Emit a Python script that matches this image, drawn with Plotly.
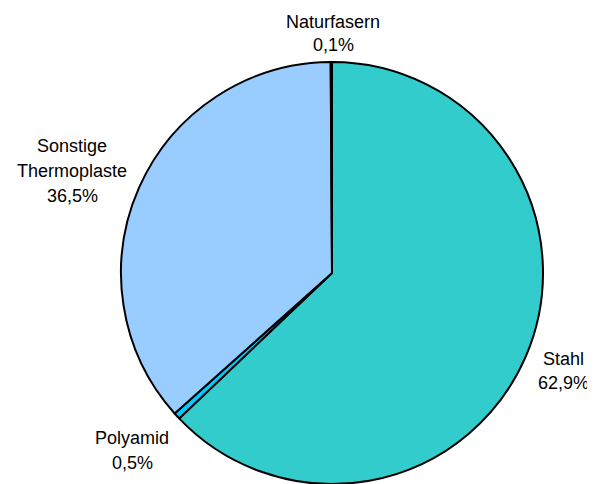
import plotly.graph_objects as go

labels = ["Stahl", "Polyamid", "Sonstige Thermoplaste", "Naturfasern"]
values = [62.9, 0.5, 36.5, 0.1]
label_lines = [["Stahl", "62,9%"], ["Polyamid", "0,5%"],
               ["Sonstige", "Thermoplaste", "36,5%"], ["Naturfasern", "0,1%"]]
colors = ["#33CCCC", "#00CCFF", "#99CCFF", "#33CCCC"]

# page body has an 8px margin; figure is sized to fill the rest of the window
OFF = 8
W, H = 595 - OFF, 484 - OFF
# label line centres in window pixels
label_pos = [[(563, 359), (563, 383)],
             [(132, 438), (132, 463)],
             [(72, 146), (72, 171), (72, 196)],
             [(333, 21.5), (333, 45.5)]]

fig = go.Figure(go.Pie(
    labels=labels, values=values, sort=False, direction="clockwise", rotation=0,
    marker=dict(colors=colors, line=dict(color="black", width=2)),
    textinfo="none", hoverinfo="label+percent", showlegend=False,
    domain=dict(x=[(324 - 211) / W, (324 + 211) / W], y=[0, 422 / H]),
))

for lines, poss in zip(label_lines, label_pos):
    for txt, (px, py) in zip(lines, poss):
        fig.add_annotation(x=(px - OFF) / W, y=1 - (py - OFF) / H, xref="paper", yref="paper",
                           text=txt, showarrow=False, xanchor="center", yanchor="middle",
                           font=dict(family="Liberation Sans, Arial, sans-serif", size=18, color="black"))

fig.update_layout(width=W, height=H, margin=dict(l=0, r=0, t=0, b=0),
                  paper_bgcolor="white", plot_bgcolor="white")
fig.write_html("out.html")
